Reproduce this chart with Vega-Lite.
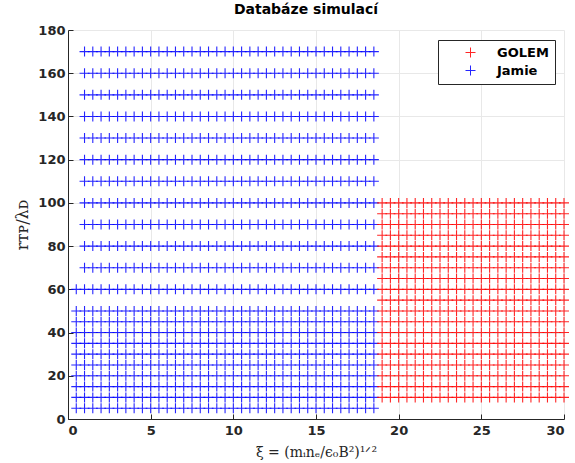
{
"$schema": "https://vega.github.io/schema/vega-lite/v6.json",
"width": 496, "height": 389,
"autosize": {"type": "none"},
"padding": {"left": 68, "top": 30, "right": 11, "bottom": 44},
"background": "white",
"title": {"text": "Databáze simulací", "font": "DejaVu Sans", "fontSize": 14, "fontWeight": "bold", "color": "black", "offset": 7, "dx": -10},
"config": {
 "view": {"stroke": null},
 "axis": {"labelFont": "DejaVu Sans", "labelFontSize": 13, "labelFontWeight": "bold", "labelColor": "#262626",
  "domainColor": "#262626", "tickColor": "#262626", "gridColor": "#e8e8e8", "tickSize": -5,
  "titleFont": "DejaVu Serif", "titleFontSize": 14, "titleFontWeight": "normal", "titleColor": "#262626"}
},
"datasets": {
"jamie": [
{"x":0.5,"y":5},{"x":1,"y":5},{"x":1.5,"y":5},{"x":2,"y":5},{"x":2.5,"y":5},{"x":3,"y":5},{"x":3.5,"y":5},{"x":4,"y":5},{"x":4.5,"y":5},{"x":5,"y":5},{"x":5.5,"y":5},{"x":6,"y":5},{"x":6.5,"y":5},{"x":7,"y":5},{"x":7.5,"y":5},{"x":8,"y":5},{"x":8.5,"y":5},{"x":9,"y":5},{"x":9.5,"y":5},{"x":10,"y":5},{"x":10.5,"y":5},{"x":11,"y":5},{"x":11.5,"y":5},{"x":12,"y":5},{"x":12.5,"y":5},{"x":13,"y":5},{"x":13.5,"y":5},{"x":14,"y":5},{"x":14.5,"y":5},{"x":15,"y":5},{"x":15.5,"y":5},{"x":16,"y":5},{"x":16.5,"y":5},{"x":17,"y":5},{"x":17.5,"y":5},{"x":18,"y":5},{"x":18.5,"y":5},
{"x":0.5,"y":10},{"x":1,"y":10},{"x":1.5,"y":10},{"x":2,"y":10},{"x":2.5,"y":10},{"x":3,"y":10},{"x":3.5,"y":10},{"x":4,"y":10},{"x":4.5,"y":10},{"x":5,"y":10},{"x":5.5,"y":10},{"x":6,"y":10},{"x":6.5,"y":10},{"x":7,"y":10},{"x":7.5,"y":10},{"x":8,"y":10},{"x":8.5,"y":10},{"x":9,"y":10},{"x":9.5,"y":10},{"x":10,"y":10},{"x":10.5,"y":10},{"x":11,"y":10},{"x":11.5,"y":10},{"x":12,"y":10},{"x":12.5,"y":10},{"x":13,"y":10},{"x":13.5,"y":10},{"x":14,"y":10},{"x":14.5,"y":10},{"x":15,"y":10},{"x":15.5,"y":10},{"x":16,"y":10},{"x":16.5,"y":10},{"x":17,"y":10},{"x":17.5,"y":10},{"x":18,"y":10},{"x":18.5,"y":10},
{"x":0.5,"y":15},{"x":1,"y":15},{"x":1.5,"y":15},{"x":2,"y":15},{"x":2.5,"y":15},{"x":3,"y":15},{"x":3.5,"y":15},{"x":4,"y":15},{"x":4.5,"y":15},{"x":5,"y":15},{"x":5.5,"y":15},{"x":6,"y":15},{"x":6.5,"y":15},{"x":7,"y":15},{"x":7.5,"y":15},{"x":8,"y":15},{"x":8.5,"y":15},{"x":9,"y":15},{"x":9.5,"y":15},{"x":10,"y":15},{"x":10.5,"y":15},{"x":11,"y":15},{"x":11.5,"y":15},{"x":12,"y":15},{"x":12.5,"y":15},{"x":13,"y":15},{"x":13.5,"y":15},{"x":14,"y":15},{"x":14.5,"y":15},{"x":15,"y":15},{"x":15.5,"y":15},{"x":16,"y":15},{"x":16.5,"y":15},{"x":17,"y":15},{"x":17.5,"y":15},{"x":18,"y":15},{"x":18.5,"y":15},
{"x":0.5,"y":20},{"x":1,"y":20},{"x":1.5,"y":20},{"x":2,"y":20},{"x":2.5,"y":20},{"x":3,"y":20},{"x":3.5,"y":20},{"x":4,"y":20},{"x":4.5,"y":20},{"x":5,"y":20},{"x":5.5,"y":20},{"x":6,"y":20},{"x":6.5,"y":20},{"x":7,"y":20},{"x":7.5,"y":20},{"x":8,"y":20},{"x":8.5,"y":20},{"x":9,"y":20},{"x":9.5,"y":20},{"x":10,"y":20},{"x":10.5,"y":20},{"x":11,"y":20},{"x":11.5,"y":20},{"x":12,"y":20},{"x":12.5,"y":20},{"x":13,"y":20},{"x":13.5,"y":20},{"x":14,"y":20},{"x":14.5,"y":20},{"x":15,"y":20},{"x":15.5,"y":20},{"x":16,"y":20},{"x":16.5,"y":20},{"x":17,"y":20},{"x":17.5,"y":20},{"x":18,"y":20},{"x":18.5,"y":20},
{"x":0.5,"y":25},{"x":1,"y":25},{"x":1.5,"y":25},{"x":2,"y":25},{"x":2.5,"y":25},{"x":3,"y":25},{"x":3.5,"y":25},{"x":4,"y":25},{"x":4.5,"y":25},{"x":5,"y":25},{"x":5.5,"y":25},{"x":6,"y":25},{"x":6.5,"y":25},{"x":7,"y":25},{"x":7.5,"y":25},{"x":8,"y":25},{"x":8.5,"y":25},{"x":9,"y":25},{"x":9.5,"y":25},{"x":10,"y":25},{"x":10.5,"y":25},{"x":11,"y":25},{"x":11.5,"y":25},{"x":12,"y":25},{"x":12.5,"y":25},{"x":13,"y":25},{"x":13.5,"y":25},{"x":14,"y":25},{"x":14.5,"y":25},{"x":15,"y":25},{"x":15.5,"y":25},{"x":16,"y":25},{"x":16.5,"y":25},{"x":17,"y":25},{"x":17.5,"y":25},{"x":18,"y":25},{"x":18.5,"y":25},
{"x":0.5,"y":30},{"x":1,"y":30},{"x":1.5,"y":30},{"x":2,"y":30},{"x":2.5,"y":30},{"x":3,"y":30},{"x":3.5,"y":30},{"x":4,"y":30},{"x":4.5,"y":30},{"x":5,"y":30},{"x":5.5,"y":30},{"x":6,"y":30},{"x":6.5,"y":30},{"x":7,"y":30},{"x":7.5,"y":30},{"x":8,"y":30},{"x":8.5,"y":30},{"x":9,"y":30},{"x":9.5,"y":30},{"x":10,"y":30},{"x":10.5,"y":30},{"x":11,"y":30},{"x":11.5,"y":30},{"x":12,"y":30},{"x":12.5,"y":30},{"x":13,"y":30},{"x":13.5,"y":30},{"x":14,"y":30},{"x":14.5,"y":30},{"x":15,"y":30},{"x":15.5,"y":30},{"x":16,"y":30},{"x":16.5,"y":30},{"x":17,"y":30},{"x":17.5,"y":30},{"x":18,"y":30},{"x":18.5,"y":30},
{"x":0.5,"y":35},{"x":1,"y":35},{"x":1.5,"y":35},{"x":2,"y":35},{"x":2.5,"y":35},{"x":3,"y":35},{"x":3.5,"y":35},{"x":4,"y":35},{"x":4.5,"y":35},{"x":5,"y":35},{"x":5.5,"y":35},{"x":6,"y":35},{"x":6.5,"y":35},{"x":7,"y":35},{"x":7.5,"y":35},{"x":8,"y":35},{"x":8.5,"y":35},{"x":9,"y":35},{"x":9.5,"y":35},{"x":10,"y":35},{"x":10.5,"y":35},{"x":11,"y":35},{"x":11.5,"y":35},{"x":12,"y":35},{"x":12.5,"y":35},{"x":13,"y":35},{"x":13.5,"y":35},{"x":14,"y":35},{"x":14.5,"y":35},{"x":15,"y":35},{"x":15.5,"y":35},{"x":16,"y":35},{"x":16.5,"y":35},{"x":17,"y":35},{"x":17.5,"y":35},{"x":18,"y":35},{"x":18.5,"y":35},
{"x":0.5,"y":40},{"x":1,"y":40},{"x":1.5,"y":40},{"x":2,"y":40},{"x":2.5,"y":40},{"x":3,"y":40},{"x":3.5,"y":40},{"x":4,"y":40},{"x":4.5,"y":40},{"x":5,"y":40},{"x":5.5,"y":40},{"x":6,"y":40},{"x":6.5,"y":40},{"x":7,"y":40},{"x":7.5,"y":40},{"x":8,"y":40},{"x":8.5,"y":40},{"x":9,"y":40},{"x":9.5,"y":40},{"x":10,"y":40},{"x":10.5,"y":40},{"x":11,"y":40},{"x":11.5,"y":40},{"x":12,"y":40},{"x":12.5,"y":40},{"x":13,"y":40},{"x":13.5,"y":40},{"x":14,"y":40},{"x":14.5,"y":40},{"x":15,"y":40},{"x":15.5,"y":40},{"x":16,"y":40},{"x":16.5,"y":40},{"x":17,"y":40},{"x":17.5,"y":40},{"x":18,"y":40},{"x":18.5,"y":40},
{"x":0.5,"y":45},{"x":1,"y":45},{"x":1.5,"y":45},{"x":2,"y":45},{"x":2.5,"y":45},{"x":3,"y":45},{"x":3.5,"y":45},{"x":4,"y":45},{"x":4.5,"y":45},{"x":5,"y":45},{"x":5.5,"y":45},{"x":6,"y":45},{"x":6.5,"y":45},{"x":7,"y":45},{"x":7.5,"y":45},{"x":8,"y":45},{"x":8.5,"y":45},{"x":9,"y":45},{"x":9.5,"y":45},{"x":10,"y":45},{"x":10.5,"y":45},{"x":11,"y":45},{"x":11.5,"y":45},{"x":12,"y":45},{"x":12.5,"y":45},{"x":13,"y":45},{"x":13.5,"y":45},{"x":14,"y":45},{"x":14.5,"y":45},{"x":15,"y":45},{"x":15.5,"y":45},{"x":16,"y":45},{"x":16.5,"y":45},{"x":17,"y":45},{"x":17.5,"y":45},{"x":18,"y":45},{"x":18.5,"y":45},
{"x":0.5,"y":50},{"x":1,"y":50},{"x":1.5,"y":50},{"x":2,"y":50},{"x":2.5,"y":50},{"x":3,"y":50},{"x":3.5,"y":50},{"x":4,"y":50},{"x":4.5,"y":50},{"x":5,"y":50},{"x":5.5,"y":50},{"x":6,"y":50},{"x":6.5,"y":50},{"x":7,"y":50},{"x":7.5,"y":50},{"x":8,"y":50},{"x":8.5,"y":50},{"x":9,"y":50},{"x":9.5,"y":50},{"x":10,"y":50},{"x":10.5,"y":50},{"x":11,"y":50},{"x":11.5,"y":50},{"x":12,"y":50},{"x":12.5,"y":50},{"x":13,"y":50},{"x":13.5,"y":50},{"x":14,"y":50},{"x":14.5,"y":50},{"x":15,"y":50},{"x":15.5,"y":50},{"x":16,"y":50},{"x":16.5,"y":50},{"x":17,"y":50},{"x":17.5,"y":50},{"x":18,"y":50},{"x":18.5,"y":50},
{"x":0.5,"y":60},{"x":1,"y":60},{"x":1.5,"y":60},{"x":2,"y":60},{"x":2.5,"y":60},{"x":3,"y":60},{"x":3.5,"y":60},{"x":4,"y":60},{"x":4.5,"y":60},{"x":5,"y":60},{"x":5.5,"y":60},{"x":6,"y":60},{"x":6.5,"y":60},{"x":7,"y":60},{"x":7.5,"y":60},{"x":8,"y":60},{"x":8.5,"y":60},{"x":9,"y":60},{"x":9.5,"y":60},{"x":10,"y":60},{"x":10.5,"y":60},{"x":11,"y":60},{"x":11.5,"y":60},{"x":12,"y":60},{"x":12.5,"y":60},{"x":13,"y":60},{"x":13.5,"y":60},{"x":14,"y":60},{"x":14.5,"y":60},{"x":15,"y":60},{"x":15.5,"y":60},{"x":16,"y":60},{"x":16.5,"y":60},{"x":17,"y":60},{"x":17.5,"y":60},{"x":18,"y":60},{"x":18.5,"y":60},
{"x":1,"y":70},{"x":1.5,"y":70},{"x":2,"y":70},{"x":2.5,"y":70},{"x":3,"y":70},{"x":3.5,"y":70},{"x":4,"y":70},{"x":4.5,"y":70},{"x":5,"y":70},{"x":5.5,"y":70},{"x":6,"y":70},{"x":6.5,"y":70},{"x":7,"y":70},{"x":7.5,"y":70},{"x":8,"y":70},{"x":8.5,"y":70},{"x":9,"y":70},{"x":9.5,"y":70},{"x":10,"y":70},{"x":10.5,"y":70},{"x":11,"y":70},{"x":11.5,"y":70},{"x":12,"y":70},{"x":12.5,"y":70},{"x":13,"y":70},{"x":13.5,"y":70},{"x":14,"y":70},{"x":14.5,"y":70},{"x":15,"y":70},{"x":15.5,"y":70},{"x":16,"y":70},{"x":16.5,"y":70},{"x":17,"y":70},{"x":17.5,"y":70},{"x":18,"y":70},{"x":18.5,"y":70},
{"x":1,"y":80},{"x":1.5,"y":80},{"x":2,"y":80},{"x":2.5,"y":80},{"x":3,"y":80},{"x":3.5,"y":80},{"x":4,"y":80},{"x":4.5,"y":80},{"x":5,"y":80},{"x":5.5,"y":80},{"x":6,"y":80},{"x":6.5,"y":80},{"x":7,"y":80},{"x":7.5,"y":80},{"x":8,"y":80},{"x":8.5,"y":80},{"x":9,"y":80},{"x":9.5,"y":80},{"x":10,"y":80},{"x":10.5,"y":80},{"x":11,"y":80},{"x":11.5,"y":80},{"x":12,"y":80},{"x":12.5,"y":80},{"x":13,"y":80},{"x":13.5,"y":80},{"x":14,"y":80},{"x":14.5,"y":80},{"x":15,"y":80},{"x":15.5,"y":80},{"x":16,"y":80},{"x":16.5,"y":80},{"x":17,"y":80},{"x":17.5,"y":80},{"x":18,"y":80},{"x":18.5,"y":80},
{"x":1,"y":90},{"x":1.5,"y":90},{"x":2,"y":90},{"x":2.5,"y":90},{"x":3,"y":90},{"x":3.5,"y":90},{"x":4,"y":90},{"x":4.5,"y":90},{"x":5,"y":90},{"x":5.5,"y":90},{"x":6,"y":90},{"x":6.5,"y":90},{"x":7,"y":90},{"x":7.5,"y":90},{"x":8,"y":90},{"x":8.5,"y":90},{"x":9,"y":90},{"x":9.5,"y":90},{"x":10,"y":90},{"x":10.5,"y":90},{"x":11,"y":90},{"x":11.5,"y":90},{"x":12,"y":90},{"x":12.5,"y":90},{"x":13,"y":90},{"x":13.5,"y":90},{"x":14,"y":90},{"x":14.5,"y":90},{"x":15,"y":90},{"x":15.5,"y":90},{"x":16,"y":90},{"x":16.5,"y":90},{"x":17,"y":90},{"x":17.5,"y":90},{"x":18,"y":90},{"x":18.5,"y":90},
{"x":1,"y":100},{"x":1.5,"y":100},{"x":2,"y":100},{"x":2.5,"y":100},{"x":3,"y":100},{"x":3.5,"y":100},{"x":4,"y":100},{"x":4.5,"y":100},{"x":5,"y":100},{"x":5.5,"y":100},{"x":6,"y":100},{"x":6.5,"y":100},{"x":7,"y":100},{"x":7.5,"y":100},{"x":8,"y":100},{"x":8.5,"y":100},{"x":9,"y":100},{"x":9.5,"y":100},{"x":10,"y":100},{"x":10.5,"y":100},{"x":11,"y":100},{"x":11.5,"y":100},{"x":12,"y":100},{"x":12.5,"y":100},{"x":13,"y":100},{"x":13.5,"y":100},{"x":14,"y":100},{"x":14.5,"y":100},{"x":15,"y":100},{"x":15.5,"y":100},{"x":16,"y":100},{"x":16.5,"y":100},{"x":17,"y":100},{"x":17.5,"y":100},{"x":18,"y":100},{"x":18.5,"y":100},
{"x":1,"y":110},{"x":1.5,"y":110},{"x":2,"y":110},{"x":2.5,"y":110},{"x":3,"y":110},{"x":3.5,"y":110},{"x":4,"y":110},{"x":4.5,"y":110},{"x":5,"y":110},{"x":5.5,"y":110},{"x":6,"y":110},{"x":6.5,"y":110},{"x":7,"y":110},{"x":7.5,"y":110},{"x":8,"y":110},{"x":8.5,"y":110},{"x":9,"y":110},{"x":9.5,"y":110},{"x":10,"y":110},{"x":10.5,"y":110},{"x":11,"y":110},{"x":11.5,"y":110},{"x":12,"y":110},{"x":12.5,"y":110},{"x":13,"y":110},{"x":13.5,"y":110},{"x":14,"y":110},{"x":14.5,"y":110},{"x":15,"y":110},{"x":15.5,"y":110},{"x":16,"y":110},{"x":16.5,"y":110},{"x":17,"y":110},{"x":17.5,"y":110},{"x":18,"y":110},{"x":18.5,"y":110},
{"x":1,"y":120},{"x":1.5,"y":120},{"x":2,"y":120},{"x":2.5,"y":120},{"x":3,"y":120},{"x":3.5,"y":120},{"x":4,"y":120},{"x":4.5,"y":120},{"x":5,"y":120},{"x":5.5,"y":120},{"x":6,"y":120},{"x":6.5,"y":120},{"x":7,"y":120},{"x":7.5,"y":120},{"x":8,"y":120},{"x":8.5,"y":120},{"x":9,"y":120},{"x":9.5,"y":120},{"x":10,"y":120},{"x":10.5,"y":120},{"x":11,"y":120},{"x":11.5,"y":120},{"x":12,"y":120},{"x":12.5,"y":120},{"x":13,"y":120},{"x":13.5,"y":120},{"x":14,"y":120},{"x":14.5,"y":120},{"x":15,"y":120},{"x":15.5,"y":120},{"x":16,"y":120},{"x":16.5,"y":120},{"x":17,"y":120},{"x":17.5,"y":120},{"x":18,"y":120},{"x":18.5,"y":120},
{"x":1,"y":130},{"x":1.5,"y":130},{"x":2,"y":130},{"x":2.5,"y":130},{"x":3,"y":130},{"x":3.5,"y":130},{"x":4,"y":130},{"x":4.5,"y":130},{"x":5,"y":130},{"x":5.5,"y":130},{"x":6,"y":130},{"x":6.5,"y":130},{"x":7,"y":130},{"x":7.5,"y":130},{"x":8,"y":130},{"x":8.5,"y":130},{"x":9,"y":130},{"x":9.5,"y":130},{"x":10,"y":130},{"x":10.5,"y":130},{"x":11,"y":130},{"x":11.5,"y":130},{"x":12,"y":130},{"x":12.5,"y":130},{"x":13,"y":130},{"x":13.5,"y":130},{"x":14,"y":130},{"x":14.5,"y":130},{"x":15,"y":130},{"x":15.5,"y":130},{"x":16,"y":130},{"x":16.5,"y":130},{"x":17,"y":130},{"x":17.5,"y":130},{"x":18,"y":130},{"x":18.5,"y":130},
{"x":1,"y":140},{"x":1.5,"y":140},{"x":2,"y":140},{"x":2.5,"y":140},{"x":3,"y":140},{"x":3.5,"y":140},{"x":4,"y":140},{"x":4.5,"y":140},{"x":5,"y":140},{"x":5.5,"y":140},{"x":6,"y":140},{"x":6.5,"y":140},{"x":7,"y":140},{"x":7.5,"y":140},{"x":8,"y":140},{"x":8.5,"y":140},{"x":9,"y":140},{"x":9.5,"y":140},{"x":10,"y":140},{"x":10.5,"y":140},{"x":11,"y":140},{"x":11.5,"y":140},{"x":12,"y":140},{"x":12.5,"y":140},{"x":13,"y":140},{"x":13.5,"y":140},{"x":14,"y":140},{"x":14.5,"y":140},{"x":15,"y":140},{"x":15.5,"y":140},{"x":16,"y":140},{"x":16.5,"y":140},{"x":17,"y":140},{"x":17.5,"y":140},{"x":18,"y":140},{"x":18.5,"y":140},
{"x":1,"y":150},{"x":1.5,"y":150},{"x":2,"y":150},{"x":2.5,"y":150},{"x":3,"y":150},{"x":3.5,"y":150},{"x":4,"y":150},{"x":4.5,"y":150},{"x":5,"y":150},{"x":5.5,"y":150},{"x":6,"y":150},{"x":6.5,"y":150},{"x":7,"y":150},{"x":7.5,"y":150},{"x":8,"y":150},{"x":8.5,"y":150},{"x":9,"y":150},{"x":9.5,"y":150},{"x":10,"y":150},{"x":10.5,"y":150},{"x":11,"y":150},{"x":11.5,"y":150},{"x":12,"y":150},{"x":12.5,"y":150},{"x":13,"y":150},{"x":13.5,"y":150},{"x":14,"y":150},{"x":14.5,"y":150},{"x":15,"y":150},{"x":15.5,"y":150},{"x":16,"y":150},{"x":16.5,"y":150},{"x":17,"y":150},{"x":17.5,"y":150},{"x":18,"y":150},{"x":18.5,"y":150},
{"x":1,"y":160},{"x":1.5,"y":160},{"x":2,"y":160},{"x":2.5,"y":160},{"x":3,"y":160},{"x":3.5,"y":160},{"x":4,"y":160},{"x":4.5,"y":160},{"x":5,"y":160},{"x":5.5,"y":160},{"x":6,"y":160},{"x":6.5,"y":160},{"x":7,"y":160},{"x":7.5,"y":160},{"x":8,"y":160},{"x":8.5,"y":160},{"x":9,"y":160},{"x":9.5,"y":160},{"x":10,"y":160},{"x":10.5,"y":160},{"x":11,"y":160},{"x":11.5,"y":160},{"x":12,"y":160},{"x":12.5,"y":160},{"x":13,"y":160},{"x":13.5,"y":160},{"x":14,"y":160},{"x":14.5,"y":160},{"x":15,"y":160},{"x":15.5,"y":160},{"x":16,"y":160},{"x":16.5,"y":160},{"x":17,"y":160},{"x":17.5,"y":160},{"x":18,"y":160},{"x":18.5,"y":160},
{"x":1,"y":170},{"x":1.5,"y":170},{"x":2,"y":170},{"x":2.5,"y":170},{"x":3,"y":170},{"x":3.5,"y":170},{"x":4,"y":170},{"x":4.5,"y":170},{"x":5,"y":170},{"x":5.5,"y":170},{"x":6,"y":170},{"x":6.5,"y":170},{"x":7,"y":170},{"x":7.5,"y":170},{"x":8,"y":170},{"x":8.5,"y":170},{"x":9,"y":170},{"x":9.5,"y":170},{"x":10,"y":170},{"x":10.5,"y":170},{"x":11,"y":170},{"x":11.5,"y":170},{"x":12,"y":170},{"x":12.5,"y":170},{"x":13,"y":170},{"x":13.5,"y":170},{"x":14,"y":170},{"x":14.5,"y":170},{"x":15,"y":170},{"x":15.5,"y":170},{"x":16,"y":170},{"x":16.5,"y":170},{"x":17,"y":170},{"x":17.5,"y":170},{"x":18,"y":170},{"x":18.5,"y":170}
],
"golem": [
{"x":19,"y":10},{"x":19.5,"y":10},{"x":20,"y":10},{"x":20.5,"y":10},{"x":21,"y":10},{"x":21.5,"y":10},{"x":22,"y":10},{"x":22.5,"y":10},{"x":23,"y":10},{"x":23.5,"y":10},{"x":24,"y":10},{"x":24.5,"y":10},{"x":25,"y":10},{"x":25.5,"y":10},{"x":26,"y":10},{"x":26.5,"y":10},{"x":27,"y":10},{"x":27.5,"y":10},{"x":28,"y":10},{"x":28.5,"y":10},{"x":29,"y":10},{"x":29.5,"y":10},{"x":30,"y":10},
{"x":19,"y":15},{"x":19.5,"y":15},{"x":20,"y":15},{"x":20.5,"y":15},{"x":21,"y":15},{"x":21.5,"y":15},{"x":22,"y":15},{"x":22.5,"y":15},{"x":23,"y":15},{"x":23.5,"y":15},{"x":24,"y":15},{"x":24.5,"y":15},{"x":25,"y":15},{"x":25.5,"y":15},{"x":26,"y":15},{"x":26.5,"y":15},{"x":27,"y":15},{"x":27.5,"y":15},{"x":28,"y":15},{"x":28.5,"y":15},{"x":29,"y":15},{"x":29.5,"y":15},{"x":30,"y":15},
{"x":19,"y":20},{"x":19.5,"y":20},{"x":20,"y":20},{"x":20.5,"y":20},{"x":21,"y":20},{"x":21.5,"y":20},{"x":22,"y":20},{"x":22.5,"y":20},{"x":23,"y":20},{"x":23.5,"y":20},{"x":24,"y":20},{"x":24.5,"y":20},{"x":25,"y":20},{"x":25.5,"y":20},{"x":26,"y":20},{"x":26.5,"y":20},{"x":27,"y":20},{"x":27.5,"y":20},{"x":28,"y":20},{"x":28.5,"y":20},{"x":29,"y":20},{"x":29.5,"y":20},{"x":30,"y":20},
{"x":19,"y":25},{"x":19.5,"y":25},{"x":20,"y":25},{"x":20.5,"y":25},{"x":21,"y":25},{"x":21.5,"y":25},{"x":22,"y":25},{"x":22.5,"y":25},{"x":23,"y":25},{"x":23.5,"y":25},{"x":24,"y":25},{"x":24.5,"y":25},{"x":25,"y":25},{"x":25.5,"y":25},{"x":26,"y":25},{"x":26.5,"y":25},{"x":27,"y":25},{"x":27.5,"y":25},{"x":28,"y":25},{"x":28.5,"y":25},{"x":29,"y":25},{"x":29.5,"y":25},{"x":30,"y":25},
{"x":19,"y":30},{"x":19.5,"y":30},{"x":20,"y":30},{"x":20.5,"y":30},{"x":21,"y":30},{"x":21.5,"y":30},{"x":22,"y":30},{"x":22.5,"y":30},{"x":23,"y":30},{"x":23.5,"y":30},{"x":24,"y":30},{"x":24.5,"y":30},{"x":25,"y":30},{"x":25.5,"y":30},{"x":26,"y":30},{"x":26.5,"y":30},{"x":27,"y":30},{"x":27.5,"y":30},{"x":28,"y":30},{"x":28.5,"y":30},{"x":29,"y":30},{"x":29.5,"y":30},{"x":30,"y":30},
{"x":19,"y":35},{"x":19.5,"y":35},{"x":20,"y":35},{"x":20.5,"y":35},{"x":21,"y":35},{"x":21.5,"y":35},{"x":22,"y":35},{"x":22.5,"y":35},{"x":23,"y":35},{"x":23.5,"y":35},{"x":24,"y":35},{"x":24.5,"y":35},{"x":25,"y":35},{"x":25.5,"y":35},{"x":26,"y":35},{"x":26.5,"y":35},{"x":27,"y":35},{"x":27.5,"y":35},{"x":28,"y":35},{"x":28.5,"y":35},{"x":29,"y":35},{"x":29.5,"y":35},{"x":30,"y":35},
{"x":19,"y":40},{"x":19.5,"y":40},{"x":20,"y":40},{"x":20.5,"y":40},{"x":21,"y":40},{"x":21.5,"y":40},{"x":22,"y":40},{"x":22.5,"y":40},{"x":23,"y":40},{"x":23.5,"y":40},{"x":24,"y":40},{"x":24.5,"y":40},{"x":25,"y":40},{"x":25.5,"y":40},{"x":26,"y":40},{"x":26.5,"y":40},{"x":27,"y":40},{"x":27.5,"y":40},{"x":28,"y":40},{"x":28.5,"y":40},{"x":29,"y":40},{"x":29.5,"y":40},{"x":30,"y":40},
{"x":19,"y":45},{"x":19.5,"y":45},{"x":20,"y":45},{"x":20.5,"y":45},{"x":21,"y":45},{"x":21.5,"y":45},{"x":22,"y":45},{"x":22.5,"y":45},{"x":23,"y":45},{"x":23.5,"y":45},{"x":24,"y":45},{"x":24.5,"y":45},{"x":25,"y":45},{"x":25.5,"y":45},{"x":26,"y":45},{"x":26.5,"y":45},{"x":27,"y":45},{"x":27.5,"y":45},{"x":28,"y":45},{"x":28.5,"y":45},{"x":29,"y":45},{"x":29.5,"y":45},{"x":30,"y":45},
{"x":19,"y":50},{"x":19.5,"y":50},{"x":20,"y":50},{"x":20.5,"y":50},{"x":21,"y":50},{"x":21.5,"y":50},{"x":22,"y":50},{"x":22.5,"y":50},{"x":23,"y":50},{"x":23.5,"y":50},{"x":24,"y":50},{"x":24.5,"y":50},{"x":25,"y":50},{"x":25.5,"y":50},{"x":26,"y":50},{"x":26.5,"y":50},{"x":27,"y":50},{"x":27.5,"y":50},{"x":28,"y":50},{"x":28.5,"y":50},{"x":29,"y":50},{"x":29.5,"y":50},{"x":30,"y":50},
{"x":19,"y":55},{"x":19.5,"y":55},{"x":20,"y":55},{"x":20.5,"y":55},{"x":21,"y":55},{"x":21.5,"y":55},{"x":22,"y":55},{"x":22.5,"y":55},{"x":23,"y":55},{"x":23.5,"y":55},{"x":24,"y":55},{"x":24.5,"y":55},{"x":25,"y":55},{"x":25.5,"y":55},{"x":26,"y":55},{"x":26.5,"y":55},{"x":27,"y":55},{"x":27.5,"y":55},{"x":28,"y":55},{"x":28.5,"y":55},{"x":29,"y":55},{"x":29.5,"y":55},{"x":30,"y":55},
{"x":19,"y":60},{"x":19.5,"y":60},{"x":20,"y":60},{"x":20.5,"y":60},{"x":21,"y":60},{"x":21.5,"y":60},{"x":22,"y":60},{"x":22.5,"y":60},{"x":23,"y":60},{"x":23.5,"y":60},{"x":24,"y":60},{"x":24.5,"y":60},{"x":25,"y":60},{"x":25.5,"y":60},{"x":26,"y":60},{"x":26.5,"y":60},{"x":27,"y":60},{"x":27.5,"y":60},{"x":28,"y":60},{"x":28.5,"y":60},{"x":29,"y":60},{"x":29.5,"y":60},{"x":30,"y":60},
{"x":19,"y":65},{"x":19.5,"y":65},{"x":20,"y":65},{"x":20.5,"y":65},{"x":21,"y":65},{"x":21.5,"y":65},{"x":22,"y":65},{"x":22.5,"y":65},{"x":23,"y":65},{"x":23.5,"y":65},{"x":24,"y":65},{"x":24.5,"y":65},{"x":25,"y":65},{"x":25.5,"y":65},{"x":26,"y":65},{"x":26.5,"y":65},{"x":27,"y":65},{"x":27.5,"y":65},{"x":28,"y":65},{"x":28.5,"y":65},{"x":29,"y":65},{"x":29.5,"y":65},{"x":30,"y":65},
{"x":19,"y":70},{"x":19.5,"y":70},{"x":20,"y":70},{"x":20.5,"y":70},{"x":21,"y":70},{"x":21.5,"y":70},{"x":22,"y":70},{"x":22.5,"y":70},{"x":23,"y":70},{"x":23.5,"y":70},{"x":24,"y":70},{"x":24.5,"y":70},{"x":25,"y":70},{"x":25.5,"y":70},{"x":26,"y":70},{"x":26.5,"y":70},{"x":27,"y":70},{"x":27.5,"y":70},{"x":28,"y":70},{"x":28.5,"y":70},{"x":29,"y":70},{"x":29.5,"y":70},{"x":30,"y":70},
{"x":19,"y":75},{"x":19.5,"y":75},{"x":20,"y":75},{"x":20.5,"y":75},{"x":21,"y":75},{"x":21.5,"y":75},{"x":22,"y":75},{"x":22.5,"y":75},{"x":23,"y":75},{"x":23.5,"y":75},{"x":24,"y":75},{"x":24.5,"y":75},{"x":25,"y":75},{"x":25.5,"y":75},{"x":26,"y":75},{"x":26.5,"y":75},{"x":27,"y":75},{"x":27.5,"y":75},{"x":28,"y":75},{"x":28.5,"y":75},{"x":29,"y":75},{"x":29.5,"y":75},{"x":30,"y":75},
{"x":19,"y":80},{"x":19.5,"y":80},{"x":20,"y":80},{"x":20.5,"y":80},{"x":21,"y":80},{"x":21.5,"y":80},{"x":22,"y":80},{"x":22.5,"y":80},{"x":23,"y":80},{"x":23.5,"y":80},{"x":24,"y":80},{"x":24.5,"y":80},{"x":25,"y":80},{"x":25.5,"y":80},{"x":26,"y":80},{"x":26.5,"y":80},{"x":27,"y":80},{"x":27.5,"y":80},{"x":28,"y":80},{"x":28.5,"y":80},{"x":29,"y":80},{"x":29.5,"y":80},{"x":30,"y":80},
{"x":19,"y":85},{"x":19.5,"y":85},{"x":20,"y":85},{"x":20.5,"y":85},{"x":21,"y":85},{"x":21.5,"y":85},{"x":22,"y":85},{"x":22.5,"y":85},{"x":23,"y":85},{"x":23.5,"y":85},{"x":24,"y":85},{"x":24.5,"y":85},{"x":25,"y":85},{"x":25.5,"y":85},{"x":26,"y":85},{"x":26.5,"y":85},{"x":27,"y":85},{"x":27.5,"y":85},{"x":28,"y":85},{"x":28.5,"y":85},{"x":29,"y":85},{"x":29.5,"y":85},{"x":30,"y":85},
{"x":19,"y":90},{"x":19.5,"y":90},{"x":20,"y":90},{"x":20.5,"y":90},{"x":21,"y":90},{"x":21.5,"y":90},{"x":22,"y":90},{"x":22.5,"y":90},{"x":23,"y":90},{"x":23.5,"y":90},{"x":24,"y":90},{"x":24.5,"y":90},{"x":25,"y":90},{"x":25.5,"y":90},{"x":26,"y":90},{"x":26.5,"y":90},{"x":27,"y":90},{"x":27.5,"y":90},{"x":28,"y":90},{"x":28.5,"y":90},{"x":29,"y":90},{"x":29.5,"y":90},{"x":30,"y":90},
{"x":19,"y":95},{"x":19.5,"y":95},{"x":20,"y":95},{"x":20.5,"y":95},{"x":21,"y":95},{"x":21.5,"y":95},{"x":22,"y":95},{"x":22.5,"y":95},{"x":23,"y":95},{"x":23.5,"y":95},{"x":24,"y":95},{"x":24.5,"y":95},{"x":25,"y":95},{"x":25.5,"y":95},{"x":26,"y":95},{"x":26.5,"y":95},{"x":27,"y":95},{"x":27.5,"y":95},{"x":28,"y":95},{"x":28.5,"y":95},{"x":29,"y":95},{"x":29.5,"y":95},{"x":30,"y":95},
{"x":19,"y":100},{"x":19.5,"y":100},{"x":20,"y":100},{"x":20.5,"y":100},{"x":21,"y":100},{"x":21.5,"y":100},{"x":22,"y":100},{"x":22.5,"y":100},{"x":23,"y":100},{"x":23.5,"y":100},{"x":24,"y":100},{"x":24.5,"y":100},{"x":25,"y":100},{"x":25.5,"y":100},{"x":26,"y":100},{"x":26.5,"y":100},{"x":27,"y":100},{"x":27.5,"y":100},{"x":28,"y":100},{"x":28.5,"y":100},{"x":29,"y":100},{"x":29.5,"y":100},{"x":30,"y":100}
]
},
"encoding": {
 "x": {"field": "x", "type": "quantitative", "scale": {"domain": [0, 30], "nice": false},
  "axis": {"values": [0,5,10,15,20,25,30], "title": "ξ = (mᵢnₑ/ϵ₀B²)¹ᐟ²", "labelPadding": 10, "titleY": 33, "titleBaseline": "middle"}},
 "y": {"field": "y", "type": "quantitative", "scale": {"domain": [0, 180], "nice": false},
  "axis": {"values": [0,20,40,60,80,100,120,140,160,180], "title": "rᴛᴘ/λᴅ", "labelPadding": 8, "titleX": -46, "titleBaseline": "middle", "titleFontSize": 16}}
},
"layer": [
 {"data": {"name": "jamie"},
  "mark": {"type": "point", "shape": "M-1,0L1,0M0,-1L0,1", "filled": false, "size": 100, "strokeWidth": 1.1, "opacity": 0.85},
  "encoding": {"color": {"datum": "Jamie", "type": "nominal",
   "scale": {"domain": ["GOLEM", "Jamie"], "range": ["#ff0000", "#0000ff"]},
   "legend": {"title": null, "orient": "none", "legendX": 370, "legendY": 10, "direction": "vertical",
    "symbolType": "M-1,0L1,0M0,-1L0,1", "symbolSize": 100, "symbolStrokeWidth": 1, "symbolFillColor": "transparent",
    "labelFont": "DejaVu Sans", "labelFontSize": 13, "labelFontWeight": "bold", "labelColor": "black",
    "strokeColor": "#262626", "fillColor": "white", "padding": 6, "symbolOffset": 20, "labelOffset": 20, "rowPadding": 3}}}},
 {"data": {"name": "golem"},
  "mark": {"type": "point", "shape": "M-1,0L1,0M0,-1L0,1", "filled": false, "size": 100, "strokeWidth": 1.1, "opacity": 0.85},
  "encoding": {"color": {"datum": "GOLEM", "type": "nominal"}}}
]
}
